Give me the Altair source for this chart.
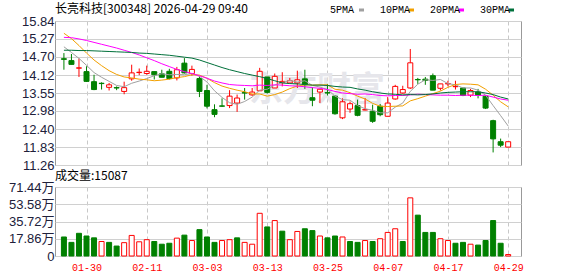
import altair as alt
import pandas as pd

# ---------------- data ----------------
dates = ["01-27", "01-28", "01-29", "01-30", "02-02", "02-03", "02-04", "02-05", "02-06", "02-09",
         "02-10", "02-11", "02-12", "02-13", "02-24", "02-25", "02-26", "02-27", "03-02", "03-03",
         "03-04", "03-05", "03-06", "03-09", "03-10", "03-11", "03-12", "03-13", "03-16", "03-17",
         "03-18", "03-19", "03-20", "03-23", "03-24", "03-25", "03-26", "03-27", "03-30", "03-31",
         "04-01", "04-02", "04-03", "04-07", "04-08", "04-09", "04-10", "04-13", "04-14", "04-15",
         "04-16", "04-17", "04-20", "04-21", "04-22", "04-23", "04-24", "04-27", "04-28", "04-29"]

opens = [14.64, 14.58, 14.34, 14.23, 13.91, 13.86, 13.73, 13.72, 13.60, 14.00,
         14.20, 14.17, 14.23, 14.16, 14.24, 14.03, 14.50, 14.17, 14.01, 13.63,
         13.02, 13.14, 13.15, 13.23, 13.56, 13.49, 13.62, 14.06, 13.71, 13.88,
         13.87, 13.87, 14.00, 13.40, 13.58, 13.56, 13.45, 12.76, 13.04, 13.15,
         13.01, 12.97, 13.13, 12.81, 13.36, 13.55, 13.71, 13.98, 13.99, 14.10,
         13.70, 13.84, 13.75, 13.71, 13.48, 13.58, 13.45, 12.67, 12.00, 11.83]
highs = [14.82, 14.79, 14.65, 14.40, 14.13, 13.89, 13.87, 13.76, 13.91, 14.45,
         14.33, 14.42, 14.23, 14.29, 14.32, 14.38, 14.66, 14.42, 14.08, 13.81,
         13.19, 13.38, 13.64, 13.50, 13.71, 13.71, 14.35, 14.06, 14.17, 14.21,
         14.03, 14.26, 14.29, 13.73, 13.67, 13.84, 13.47, 13.38, 13.28, 13.34,
         13.39, 13.18, 13.20, 13.42, 13.81, 13.78, 14.95, 14.03, 14.06, 14.17,
         13.84, 13.94, 13.94, 13.71, 13.68, 13.68, 13.47, 12.70, 12.10, 12.00]
lows = [14.29, 14.46, 14.06, 13.90, 13.64, 13.66, 13.63, 13.64, 13.51, 13.94,
        14.12, 14.13, 13.98, 14.05, 13.98, 13.95, 14.17, 14.10, 13.42, 13.06,
        12.78, 13.11, 13.07, 12.95, 13.34, 13.46, 13.62, 13.53, 13.71, 13.76,
        13.87, 13.71, 13.68, 13.13, 13.23, 13.47, 12.86, 12.72, 12.92, 12.81,
        13.00, 12.60, 12.81, 12.81, 13.34, 13.53, 13.68, 13.84, 13.81, 13.64,
        13.63, 13.76, 13.66, 13.45, 13.42, 13.38, 13.04, 11.66, 11.83, 11.83]
closes = [14.62, 14.46, 14.35, 13.92, 13.66, 13.85, 13.81, 13.71, 13.72, 14.19,
          14.21, 14.24, 14.13, 14.05, 14.01, 14.29, 14.19, 14.30, 13.60, 13.13,
          12.87, 13.13, 13.45, 13.39, 13.55, 13.58, 14.24, 13.57, 14.08, 13.92,
          13.94, 13.97, 13.81, 13.32, 13.67, 13.55, 12.89, 13.27, 13.21, 12.84,
          13.02, 12.65, 12.86, 13.23, 13.76, 13.66, 14.51, 13.97, 13.95, 13.64,
          13.84, 13.85, 13.76, 13.47, 13.63, 13.47, 13.07, 12.09, 11.89, 12.00]

# volume in 万 (10k lots)
volumes = [19.7, 14.1, 23.5, 20.7, 18.8, 15.0, 14.1, 10.3, 13.8, 21.3,
           14.7, 16.9, 15.0, 12.2, 13.2, 18.5, 21.6, 16.0, 27.3, 19.7,
           14.1, 16.0, 16.9, 18.8, 14.1, 12.2, 44.2, 30.1, 36.7, 25.7,
           16.9, 25.4, 28.2, 26.3, 20.7, 18.8, 20.7, 19.7, 15.0, 14.1,
           16.0, 15.0, 17.9, 24.4, 28.2, 15.0, 60.2, 42.3, 24.4, 24.4,
           17.9, 16.0, 13.2, 14.1, 12.2, 11.3, 16.0, 36.7, 13.2, 1.51]
# colour of each volume bar (R = red/up, G = green/down)
vol_dir = list("GGGGG" "RGGRR" "RRGGG" "RGRGG" "GRRGR" "RRGRG"
               "RRGGR" "GGRGG" "RGRRR" "GRGGG" "RRGGR" "GGGGR")

ma5 = [15.02, 14.84, 14.65, 14.43, 14.20, 14.05, 13.92, 13.79, 13.75, 13.86,
       13.93, 14.01, 14.10, 14.16, 14.13, 14.14, 14.13, 14.17, 14.08, 13.90,
       13.62, 13.41, 13.24, 13.19, 13.28, 13.42, 13.64, 13.67, 13.80, 13.88,
       13.95, 13.90, 13.94, 13.79, 13.74, 13.66, 13.45, 13.34, 13.32, 13.15,
       13.05, 13.00, 12.92, 12.92, 13.10, 13.23, 13.60, 13.83, 13.97, 13.95,
       13.98, 13.85, 13.81, 13.71, 13.71, 13.64, 13.48, 13.15, 12.83, 12.50]
ma10 = [15.45, 15.28, 15.06, 14.82, 14.60, 14.42, 14.26, 14.14, 14.06, 14.03,
        13.99, 13.97, 13.94, 13.96, 13.99, 14.04, 14.07, 14.13, 14.12, 14.02,
        13.88, 13.77, 13.70, 13.64, 13.59, 13.52, 13.52, 13.45, 13.50, 13.58,
        13.69, 13.77, 13.81, 13.80, 13.81, 13.81, 13.67, 13.64, 13.56, 13.45,
        13.36, 13.22, 13.13, 13.12, 13.13, 13.14, 13.30, 13.37, 13.45, 13.53,
        13.61, 13.73, 13.82, 13.84, 13.83, 13.81, 13.67, 13.48, 13.27, 13.11]
ma20 = [15.32, 15.31, 15.27, 15.22, 15.16, 15.10, 15.04, 14.98, 14.91, 14.84,
        14.76, 14.67, 14.58, 14.48, 14.39, 14.30, 14.23, 14.17, 14.10, 14.02,
        13.93, 13.87, 13.82, 13.80, 13.79, 13.78, 13.80, 13.79, 13.81, 13.80,
        13.78, 13.77, 13.75, 13.72, 13.70, 13.66, 13.60, 13.55, 13.53, 13.51,
        13.52, 13.50, 13.47, 13.46, 13.47, 13.47, 13.49, 13.51, 13.50, 13.49,
        13.48, 13.48, 13.47, 13.48, 13.48, 13.47, 13.48, 13.42, 13.36, 13.32]
ma30 = [14.91, 14.91, 14.90, 14.90, 14.89, 14.88, 14.87, 14.86, 14.85, 14.84,
        14.82, 14.81, 14.79, 14.77, 14.75, 14.72, 14.69, 14.66, 14.60, 14.52,
        14.44, 14.36, 14.29, 14.23, 14.17, 14.12, 14.07, 14.01, 13.94, 13.87,
        13.85, 13.84, 13.82, 13.80, 13.80, 13.79, 13.76, 13.74, 13.73, 13.68,
        13.64, 13.59, 13.55, 13.52, 13.51, 13.49, 13.50, 13.49, 13.50, 13.52,
        13.55, 13.57, 13.58, 13.59, 13.59, 13.59, 13.55, 13.50, 13.42, 13.36]

ma_names = ["5PMA", "10PMA", "20PMA", "30PMA"]
ma_colors = ["#a0a0a0", "#f2a000", "#ff00ff", "#00703a"]

price_ticks = [11.26, 11.83, 12.40, 12.98, 13.55, 14.12, 14.70, 15.27, 15.84]
vol_ticks = [0, 17.86, 35.72, 53.58, 71.44]
xtick_idx = [4, 12, 20, 28, 36, 44, 52, 60]

title_text = "长亮科技[300348] 2026-04-29 09:40"
vol_title = "成交量:15087"
watermark = "东方财富"

RED = "#ff0000"
GREEN = "#008000"

# ---------------- tables ----------------
n = len(closes)
df = pd.DataFrame({
    "i": list(range(1, n + 1)),
    "date": dates,
    "open": opens, "high": highs, "low": lows, "close": closes,
    "vol": volumes, "vdir": vol_dir,
})
ma_rows = []
for name, series in zip(ma_names, [ma5, ma10, ma20, ma30]):
    for k, v in enumerate(series):
        ma_rows.append({"i": k + 1, "ma": name, "value": v})
ma_df = pd.DataFrame(ma_rows)

dates_js = "[" + ",".join("'" + d + "'" for d in dates) + "]"

W = 466
xscale = alt.Scale(domain=[0.48, 61.04], nice=False, zero=False)
pscale = alt.Scale(domain=[11.26, 15.84], nice=False, zero=False)
vscale = alt.Scale(domain=[0, 71.44], nice=False, zero=False)


def top_xaxis():
    return alt.Axis(values=xtick_idx, labels=False, ticks=False, domain=False, title=None,
                    grid=True, gridDash=[4, 3], gridColor="#c8c8c8", gridWidth=1)


def price_axis():
    return alt.Axis(values=price_ticks, format=".2f", title=None, ticks=False, domain=False,
                    grid=True, gridColor="#d0d0d0", gridWidth=1,
                    labelFont="Liberation Sans", labelFontSize=13, labelColor="#20203a",
                    labelPadding=1, labelFlush=False, labelOverlap=False)


ma_legend = alt.Legend(title=None, orient="none", legendX=265, legendY=-16,
                       direction="horizontal", padding=0, gridAlign="none",
                       labelExpr="datum.label == '5PMA' ? ' 5PMA' : datum.label",
                       symbolType="M13.6,0H15.6", symbolSize=25, symbolStrokeWidth=3,
                       labelFont="Liberation Mono", labelFontSize=10,
                       labelColor="#000000", labelAlign="left",
                       labelOffset=0, columnPadding=0)

up = "datum.close >= datum.open"
base = alt.Chart(df).encode(x=alt.X("i:Q", scale=xscale, axis=top_xaxis()))

wm = alt.Chart(pd.DataFrame({"t": [watermark]})).mark_text(
    font="Noto Sans CJK SC", fontSize=34, fontWeight="bold", color="#e6e6eb",
    align="center", baseline="middle"
).encode(x=alt.value(262), y=alt.value(70), text="t:N")

wick = base.mark_rule(strokeWidth=1).encode(
    y=alt.Y("low:Q", scale=pscale, axis=price_axis()),
    y2="high:Q",
    color=alt.condition(up, alt.value(RED), alt.value(GREEN)),
)
body = base.mark_bar(size=5, strokeWidth=1).encode(
    y=alt.Y("open:Q", scale=pscale, axis=price_axis()),
    y2="close:Q",
    fill=alt.condition(up, alt.value("#ffffff"), alt.value(GREEN)),
    stroke=alt.condition(up, alt.value(RED), alt.value(GREEN)),
)
lines = alt.Chart(ma_df).mark_line(strokeWidth=1).encode(
    x=alt.X("i:Q", scale=xscale, axis=top_xaxis()),
    y=alt.Y("value:Q", scale=pscale, axis=price_axis()),
    color=alt.Color("ma:N", scale=alt.Scale(domain=ma_names, range=ma_colors),
                    sort=ma_names, legend=ma_legend),
    detail="ma:N",
)

top = alt.layer(wm, wick, body, lines).properties(
    width=W, height=144,
    title=alt.TitleParams(title_text, anchor="start", frame="group", font="Noto Sans CJK SC",
                          fontSize=12, fontWeight="normal", color="#000000", offset=-1),
)

bottom_xaxis = alt.Axis(values=xtick_idx, labelExpr=dates_js + "[datum.value - 1]",
                        ticks=False, domain=False, title=None, grid=True, gridDash=[4, 3],
                        gridColor="#c8c8c8", labelFont="Liberation Mono", labelFontSize=10,
                        labelColor=RED, labelPadding=6, labelFlush=False, labelOverlap=False)
vol_axis = alt.Axis(values=vol_ticks, title=None, ticks=False, domain=False, grid=True,
                    gridColor="#d0d0d0",
                    labelExpr="datum.value == 0 ? '0' : format(datum.value, '.2f') + '万'",
                    labelFont="Liberation Sans, Noto Sans CJK SC", labelFontSize=13,
                    labelColor="#20203a", labelPadding=1, labelFlush=False, labelOverlap=False)

vup = "datum.vdir == 'R'"
vol = alt.Chart(df).mark_bar(size=5, strokeWidth=1).encode(
    x=alt.X("i:Q", scale=xscale, axis=bottom_xaxis),
    y=alt.Y("vol:Q", scale=vscale, axis=vol_axis),
    fill=alt.condition(vup, alt.value("#ffffff"), alt.value(GREEN)),
    stroke=alt.condition(vup, alt.value(RED), alt.value(GREEN)),
).properties(
    width=W, height=69,
    title=alt.TitleParams(vol_title, anchor="start", frame="group", font="Noto Sans CJK SC",
                          fontSize=12, fontWeight="normal", color="#000000", offset=-2),
)


def build(spacing):
    return alt.vconcat(top, vol, spacing=spacing).properties(
        padding={"left": 7, "top": 2, "right": 10, "bottom": 2},
        background="#ffffff",
    ).configure_view(stroke="#999999", strokeWidth=1)


try:
    chart = build(-4)
    chart.to_dict()
except Exception:
    chart = build(0)

chart.save("out.html", embed_options={"renderer": "svg", "actions": False})
